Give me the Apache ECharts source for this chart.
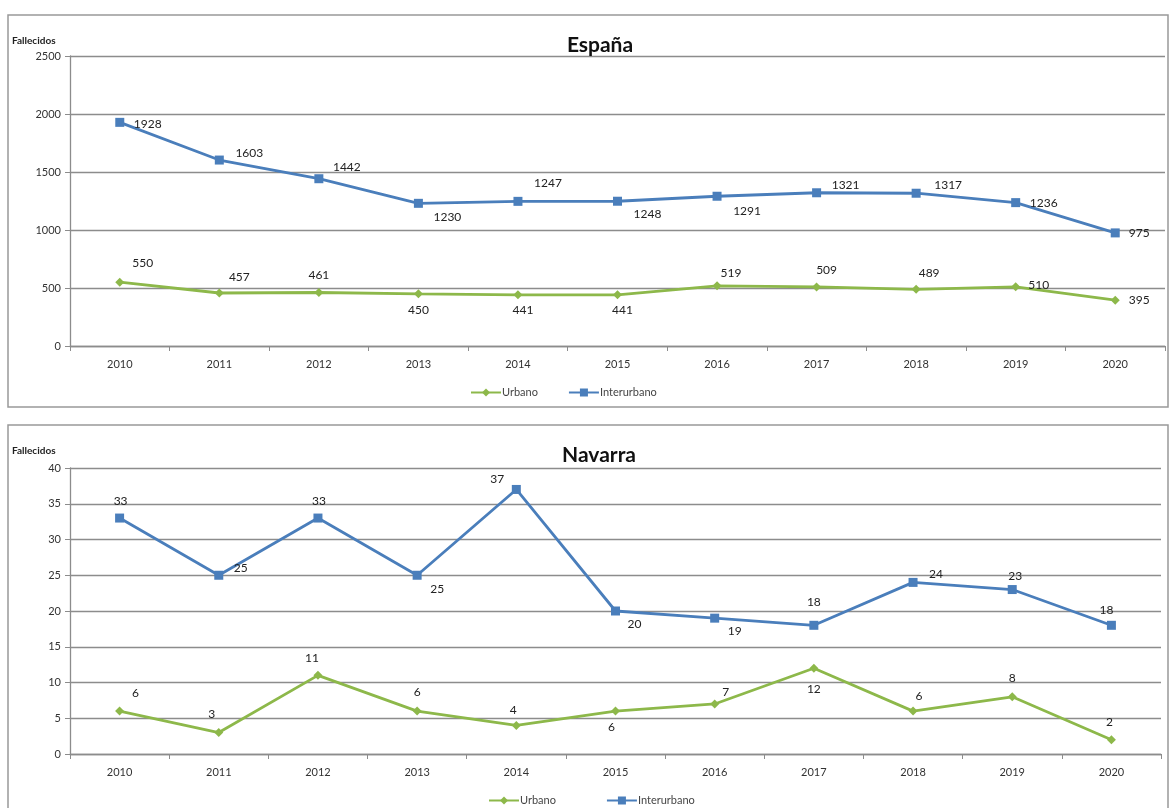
<!DOCTYPE html>
<html>
<head>
<meta charset="utf-8">
<title>Fallecidos España / Navarra</title>
<script src="https://cdn.jsdelivr.net/npm/echarts@6/dist/echarts.min.js"></script>
<style>
  html, body { margin: 0; padding: 0; background: #fff; }
  #chart { width: 1170px; height: 808px; }
</style>
</head>
<body>
<div id="chart"></div>
<script>
// categories
const years = ["2010", "2011", "2012", "2013", "2014", "2015", "2016", "2017", "2018", "2019", "2020"];

// España
const espUrbano = [550, 457, 461, 450, 441, 441, 519, 509, 489, 510, 395];
const espInterurbano = [1928, 1603, 1442, 1230, 1247, 1248, 1291, 1321, 1317, 1236, 975];

// Navarra
const navUrbano = [6, 3, 11, 6, 4, 6, 7, 12, 6, 8, 2];
const navInterurbano = [33, 25, 33, 25, 37, 20, 19, 18, 24, 23, 18];

// label offsets (px from the point), like the hand-placed excel labels
const espUrbOff = [[23,-19],[20,-16],[0,-17],[0,16],[5,15],[5,15],[14,-13],[10,-17],[13,-16],[23,-2],[24,0]];
const espIntOff = [[28,2],[30,-7],[28,-12],[29,14],[30,-18],[30,13],[30,15],[29,-8],[32,-8],[28,1],[24,0]];
const navUrbOff = [[16,-18],[-7,-18],[-6,-17],[0,-19],[-3,-15],[-4,16],[11,-12],[0,21],[6,-15],[0,-19],[-2,-18]];
const navIntOff = [[1,-17],[22,-7],[1,-17],[20,14],[-19,-10],[19,13],[20,13],[0,-23],[23,-8],[3,-13],[-5,-15]];

const blue = "#4a7ebb";
const green = "#8db84a";
const gridGray = "#8c8c8c";
const txt = "#333";
const font = "Lato, 'Open Sans', sans-serif";

const withLabels = (vals, offs) =>
  vals.map((v, i) => ({ value: v, label: { offset: offs[i] } }));

const xAxisOf = (gi) => ({
  type: "category",
  gridIndex: gi,
  data: years,
  boundaryGap: true,
  axisLine: { lineStyle: { color: gridGray, width: 1.3 } },
  axisTick: { show: true, length: 5, lineStyle: { color: gridGray } },
  axisLabel: { color: txt, fontSize: 11, fontFamily: font, margin: 13 },
});

const yAxisOf = (gi, max, interval) => ({
  type: "value",
  gridIndex: gi,
  min: 0,
  max: max,
  interval: interval,
  axisLine: { show: true, lineStyle: { color: gridGray, width: 1.3 } },
  axisTick: { show: true, length: 5, lineStyle: { color: gridGray } },
  axisLabel: { color: txt, fontSize: 11, fontFamily: font, margin: 9,
    formatter: (v) => String(v) },
  splitLine: { lineStyle: { color: gridGray, width: 1.3 } },
});

const lineSeries = (name, gi, vals, offs, color, symbol, size) => ({
  name: name,
  type: "line",
  xAxisIndex: gi,
  yAxisIndex: gi,
  data: withLabels(vals, offs),
  symbol: symbol,
  symbolSize: size,
  showAllSymbol: true,
  lineStyle: { color: color, width: 2.8 },
  itemStyle: { color: color },
  label: {
    show: true,
    position: "inside",
    color: "#222",
    fontSize: 12,
    fontFamily: font,
  },
  emphasis: { disabled: true },
  animation: false,
});

const myChart = echarts.init(document.getElementById("chart"), null, { renderer: "canvas" });

const option = {
  backgroundColor: "#fff",
  animation: false,
  graphic: [
    { type: "rect", shape: { x: 8, y: 15, width: 1160, height: 392 },
      style: { fill: "none", stroke: "#999", lineWidth: 1.5 }, silent: true, z: -1 },
    { type: "rect", shape: { x: 8, y: 425, width: 1160, height: 400 },
      style: { fill: "none", stroke: "#999", lineWidth: 1.5 }, silent: true, z: -1 },
    { type: "text", left: 12, top: 36,
      style: { text: "Fallecidos", font: "bold 10px " + font, fill: "#222" } },
    { type: "text", left: 12, top: 446,
      style: { text: "Fallecidos", font: "bold 10px " + font, fill: "#222" } },
  ],
  title: [
    { text: "España", left: 595, top: 30, textAlign: "center",
      textStyle: { fontSize: 21, fontWeight: "bold", color: "#111", fontFamily: font } },
    { text: "Navarra", left: 594, top: 440, textAlign: "center",
      textStyle: { fontSize: 21, fontWeight: "bold", color: "#111", fontFamily: font } },
  ],
  legend: [
    { left: 465, top: 382, itemWidth: 30, itemHeight: 10, itemGap: 30,
      data: ["Urbano", "Interurbano"],
      textStyle: { color: "#444", fontSize: 11, fontFamily: font, padding: [0, 0, 0, -4] } },
    { left: 483, top: 790, itemWidth: 30, itemHeight: 10, itemGap: 50,
      data: ["Urbano", "Interurbano"],
      textStyle: { color: "#444", fontSize: 11, fontFamily: font, padding: [0, 0, 0, -4] } },
  ],
  grid: [
    { left: 70, top: 56, width: 1095, height: 290 },
    { left: 70, top: 468, width: 1091, height: 286 },
  ],
  xAxis: [xAxisOf(0), xAxisOf(1)],
  yAxis: [yAxisOf(0, 2500, 500), yAxisOf(1, 40, 5)],
  series: [
    lineSeries("Urbano", 0, espUrbano, espUrbOff, green, "diamond", 9),
    lineSeries("Interurbano", 0, espInterurbano, espIntOff, blue, "rect", 9),
    lineSeries("Urbano", 1, navUrbano, navUrbOff, green, "diamond", 9),
    lineSeries("Interurbano", 1, navInterurbano, navIntOff, blue, "rect", 9),
  ],
};

myChart.setOption(option);
</script>
</body>
</html>
